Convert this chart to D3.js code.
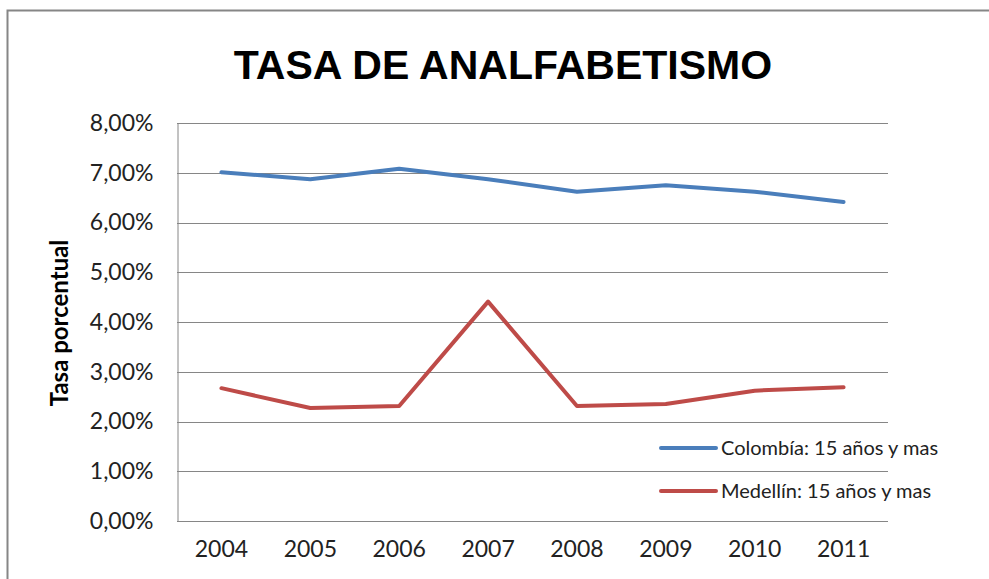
<!DOCTYPE html>
<html>
<head>
<meta charset="utf-8">
<script src="https://cdn.jsdelivr.net/npm/d3@7"></script>
<style>
  body { margin: 0; background: #fff; }
</style>
</head>
<body>
<div id="chart"></div>
<script>
var years = ["2004", "2005", "2006", "2007", "2008", "2009", "2010", "2011"];
var colombia = [7.01, 6.87, 7.08, 6.87, 6.62, 6.75, 6.62, 6.41];
var medellin = [2.67, 2.27, 2.31, 4.41, 2.31, 2.35, 2.62, 2.69];
var seriesNames = ["Colombía: 15 años y mas", "Medellín: 15 años y mas"];
var yTicks = [0, 1, 2, 3, 4, 5, 6, 7, 8];

var w = 989, h = 579;
var pLeft = 177, pRight = 888, pTop = 123, pBottom = 521;
var colors = ["#4a7ebb", "#be4b48"];

var svg = d3.select("#chart").append("svg").attr("width", w).attr("height", h);

// chart border
svg.append("rect")
    .attr("x", 7.5).attr("y", 10.5)
    .attr("width", 1000).attr("height", 600)
    .attr("fill", "none").attr("stroke", "#868686").attr("stroke-width", 2);

var xScale = d3.scaleBand().domain(years).range([pLeft, pRight]);
var yScale = d3.scaleLinear().domain([0, 8]).range([pBottom, pTop]);

// gridlines
svg.append("g").selectAll("line")
    .data(yTicks)
    .enter()
    .append("line")
    .attr("x1", pLeft).attr("x2", pRight)
    .attr("y1", function (d) { return Math.round(yScale(d)) + 0.5; })
    .attr("y2", function (d) { return Math.round(yScale(d)) + 0.5; })
    .attr("stroke", "#868686").attr("stroke-width", 1);

// y axis
var yAxis = d3.axisLeft(yScale).tickValues(yTicks).tickSize(0).tickPadding(24)
    .tickFormat(function (d) { return d.toFixed(2).replace(".", ",") + "%"; });
var gy = svg.append("g").attr("transform", "translate(" + (pLeft + 0.5) + ",0)").call(yAxis);
gy.select(".domain").attr("stroke", "#868686");
gy.selectAll("text").attr("font-family", "Lato, sans-serif").attr("font-size", "23px").attr("fill", "#222");

// x axis
var xAxis = d3.axisBottom(xScale).tickSize(0).tickPadding(20);
var gx = svg.append("g").attr("transform", "translate(0," + pBottom + ")").call(xAxis);
gx.select(".domain").remove();
gx.selectAll("text").attr("font-family", "Lato, sans-serif").attr("font-size", "23px").attr("fill", "#222");

// lines
var line = d3.line()
    .x(function (d, i) { return xScale(years[i]) + xScale.bandwidth() / 2; })
    .y(function (d) { return yScale(d); });

[colombia, medellin].forEach(function (s, i) {
    svg.append("path")
        .datum(s)
        .attr("d", line)
        .attr("fill", "none")
        .attr("stroke", colors[i])
        .attr("stroke-width", 4)
        .attr("stroke-linejoin", "round")
        .attr("stroke-linecap", "round");
});

// title
svg.append("text")
    .attr("x", 503).attr("y", 79)
    .attr("text-anchor", "middle")
    .attr("font-family", "Liberation Sans, Arial, sans-serif")
    .attr("font-weight", "bold")
    .attr("font-size", "41px")
    .attr("fill", "#000")
    .text("TASA DE ANALFABETISMO");

// y label
svg.append("text")
    .attr("transform", "translate(68,323) rotate(-90)")
    .attr("text-anchor", "middle")
    .attr("font-family", "Lato, sans-serif")
    .attr("font-weight", "bold")
    .attr("font-size", "24px")
    .attr("fill", "#000")
    .text("Tasa porcentual");

// legend
var legend = svg.selectAll(".legend")
    .data(seriesNames)
    .enter()
    .append("g")
    .attr("transform", function (d, i) { return "translate(0," + (448 + i * 43) + ")"; });

legend.append("line")
    .attr("x1", 661).attr("x2", 716)
    .attr("stroke", function (d, i) { return colors[i]; })
    .attr("stroke-width", 4)
    .attr("stroke-linecap", "round");

legend.append("text")
    .attr("x", 721).attr("y", 7)
    .attr("font-family", "Lato, sans-serif")
    .attr("font-size", "20px")
    .attr("fill", "#222")
    .text(function (d) { return d; });
</script>
</body>
</html>
